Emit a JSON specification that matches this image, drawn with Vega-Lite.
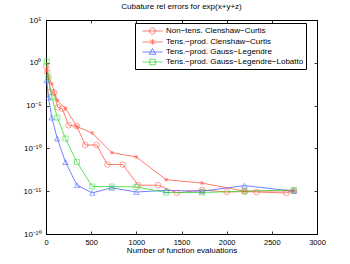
{
  "$schema": "https://vega.github.io/schema/vega-lite/v6.json",
  "width": 271,
  "height": 214,
  "autosize": {"type": "none"},
  "padding": {"left": 46, "top": 20, "right": 33, "bottom": 30},
  "background": "white",
  "config": {
    "font": "Liberation Sans",
    "view": {"stroke": "#000", "strokeWidth": 1},
    "axis": {"domainColor": "#000", "tickColor": "#000", "labelColor": "#000", "titleColor": "#000", "labelFontSize": 7.5, "titleFontSize": 8, "titleFontWeight": "normal", "grid": false, "tickSize": -3, "domainWidth": 1, "tickWidth": 0.8}
  },
  "title": {"text": "Cubature rel errors for exp(x+y+z)", "fontSize": 8, "fontWeight": "normal", "color": "#000", "offset": 5},
  "data": {"values": [
    {"s": "Non−tens. Clenshaw−Curtis", "n": 1, "e": 0.4},
    {"s": "Non−tens. Clenshaw−Curtis", "n": 15, "e": 0.08},
    {"s": "Non−tens. Clenshaw−Curtis", "n": 50, "e": 4e-4},
    {"s": "Non−tens. Clenshaw−Curtis", "n": 90, "e": 3.2e-4},
    {"s": "Non−tens. Clenshaw−Curtis", "n": 130, "e": 6.3e-6},
    {"s": "Non−tens. Clenshaw−Curtis", "n": 180, "e": 4.5e-6},
    {"s": "Non−tens. Clenshaw−Curtis", "n": 250, "e": 5e-8},
    {"s": "Non−tens. Clenshaw−Curtis", "n": 340, "e": 4e-8},
    {"s": "Non−tens. Clenshaw−Curtis", "n": 435, "e": 2.5e-10},
    {"s": "Non−tens. Clenshaw−Curtis", "n": 560, "e": 2.5e-10},
    {"s": "Non−tens. Clenshaw−Curtis", "n": 680, "e": 1.3e-12},
    {"s": "Non−tens. Clenshaw−Curtis", "n": 850, "e": 1.3e-12},
    {"s": "Non−tens. Clenshaw−Curtis", "n": 1020, "e": 5e-15},
    {"s": "Non−tens. Clenshaw−Curtis", "n": 1240, "e": 5e-15},
    {"s": "Non−tens. Clenshaw−Curtis", "n": 1450, "e": 6.3e-16},
    {"s": "Non−tens. Clenshaw−Curtis", "n": 1730, "e": 1.4e-15},
    {"s": "Non−tens. Clenshaw−Curtis", "n": 2000, "e": 8e-16},
    {"s": "Non−tens. Clenshaw−Curtis", "n": 2200, "e": 9e-16},
    {"s": "Non−tens. Clenshaw−Curtis", "n": 2330, "e": 8e-16},
    {"s": "Non−tens. Clenshaw−Curtis", "n": 2660, "e": 6.3e-16},
    {"s": "Non−tens. Clenshaw−Curtis", "n": 2744, "e": 1.1e-15},
    {"s": "Tens.−prod. Clenshaw−Curtis", "n": 8, "e": 0.126},
    {"s": "Tens.−prod. Clenshaw−Curtis", "n": 27, "e": 0.0178},
    {"s": "Tens.−prod. Clenshaw−Curtis", "n": 64, "e": 3.5e-3},
    {"s": "Tens.−prod. Clenshaw−Curtis", "n": 125, "e": 4e-5},
    {"s": "Tens.−prod. Clenshaw−Curtis", "n": 216, "e": 4.5e-6},
    {"s": "Tens.−prod. Clenshaw−Curtis", "n": 343, "e": 3.5e-8},
    {"s": "Tens.−prod. Clenshaw−Curtis", "n": 512, "e": 6.3e-9},
    {"s": "Tens.−prod. Clenshaw−Curtis", "n": 729, "e": 3.2e-11},
    {"s": "Tens.−prod. Clenshaw−Curtis", "n": 1000, "e": 1e-11},
    {"s": "Tens.−prod. Clenshaw−Curtis", "n": 1331, "e": 2.2e-14},
    {"s": "Tens.−prod. Clenshaw−Curtis", "n": 1728, "e": 8.9e-15},
    {"s": "Tens.−prod. Clenshaw−Curtis", "n": 2197, "e": 1e-15},
    {"s": "Tens.−prod. Clenshaw−Curtis", "n": 2744, "e": 1.1e-15},
    {"s": "Tens.−prod. Gauss−Legendre", "n": 8, "e": 8.9e-3},
    {"s": "Tens.−prod. Gauss−Legendre", "n": 27, "e": 8.9e-5},
    {"s": "Tens.−prod. Gauss−Legendre", "n": 64, "e": 4e-7},
    {"s": "Tens.−prod. Gauss−Legendre", "n": 125, "e": 1.4e-9},
    {"s": "Tens.−prod. Gauss−Legendre", "n": 216, "e": 2.5e-12},
    {"s": "Tens.−prod. Gauss−Legendre", "n": 343, "e": 5e-15},
    {"s": "Tens.−prod. Gauss−Legendre", "n": 512, "e": 6.3e-16},
    {"s": "Tens.−prod. Gauss−Legendre", "n": 729, "e": 2.5e-15},
    {"s": "Tens.−prod. Gauss−Legendre", "n": 1000, "e": 8e-16},
    {"s": "Tens.−prod. Gauss−Legendre", "n": 1331, "e": 1.26e-15},
    {"s": "Tens.−prod. Gauss−Legendre", "n": 1728, "e": 1e-15},
    {"s": "Tens.−prod. Gauss−Legendre", "n": 2197, "e": 4.5e-15},
    {"s": "Tens.−prod. Gauss−Legendre", "n": 2744, "e": 1e-15},
    {"s": "Tens.−prod. Gauss−Legendre−Lobatto", "n": 8, "e": 1.41},
    {"s": "Tens.−prod. Gauss−Legendre−Lobatto", "n": 27, "e": 0.0178},
    {"s": "Tens.−prod. Gauss−Legendre−Lobatto", "n": 64, "e": 1e-4},
    {"s": "Tens.−prod. Gauss−Legendre−Lobatto", "n": 125, "e": 4e-7},
    {"s": "Tens.−prod. Gauss−Legendre−Lobatto", "n": 216, "e": 1.41e-9},
    {"s": "Tens.−prod. Gauss−Legendre−Lobatto", "n": 343, "e": 2.5e-12},
    {"s": "Tens.−prod. Gauss−Legendre−Lobatto", "n": 512, "e": 3.5e-15},
    {"s": "Tens.−prod. Gauss−Legendre−Lobatto", "n": 729, "e": 3.5e-15},
    {"s": "Tens.−prod. Gauss−Legendre−Lobatto", "n": 1000, "e": 3.2e-15},
    {"s": "Tens.−prod. Gauss−Legendre−Lobatto", "n": 1331, "e": 7e-16},
    {"s": "Tens.−prod. Gauss−Legendre−Lobatto", "n": 1728, "e": 7e-16},
    {"s": "Tens.−prod. Gauss−Legendre−Lobatto", "n": 2197, "e": 1e-15},
    {"s": "Tens.−prod. Gauss−Legendre−Lobatto", "n": 2744, "e": 1.4e-15}
  ]},
  "layer": [
    {
      "mark": {"type": "line", "strokeWidth": 0.8},
      "encoding": {
        "x": {"field": "n", "type": "quantitative", "scale": {"domain": [0, 3000], "nice": false, "zero": false},
              "axis": {"orient": "bottom", "title": "Number of function evaluations", "format": "d", "values": [0, 500, 1000, 1500, 2000, 2500, 3000], "labelPadding": 7, "titlePadding": 1, "labelFlush": false}},
        "y": {"field": "e", "type": "quantitative", "scale": {"type": "log", "domain": [1e-20, 1e5], "nice": false},
              "axis": {"orient": "left", "title": null, "values": [1e-20, 1e-15, 1e-10, 1e-5, 1, 100000], "labelPadding": 8, "labelFontSize": 8,
                       "labelExpr": "round(log(datum.value)/LN10) == 5 ? '10⁵' : round(log(datum.value)/LN10) == 0 ? '10⁰' : round(log(datum.value)/LN10) == -5 ? '10⁻⁵' : round(log(datum.value)/LN10) == -10 ? '10⁻¹⁰' : round(log(datum.value)/LN10) == -15 ? '10⁻¹⁵' : '10⁻²⁰'"}},
        "color": {"field": "s", "type": "nominal",
                  "scale": {"domain": ["Non−tens. Clenshaw−Curtis", "Tens.−prod. Clenshaw−Curtis", "Tens.−prod. Gauss−Legendre", "Tens.−prod. Gauss−Legendre−Lobatto"], "range": ["#ff5a48", "#ff5a48", "#4f62ff", "#30dd30"]},
                  "legend": {"title": null, "orient": "none", "legendX": 89, "legendY": 3, "fillColor": "white", "strokeColor": "#000", "padding": 2.5,
                             "symbolSize": 100, "symbolStrokeWidth": 0.8, "symbolOffset": 9.5, "labelOffset": 8, "labelFontSize": 8, "labelColor": "#000", "rowPadding": 0, "labelLimit": 300,
                             "encode": {"symbols": {"update": {"fill": {"value": "transparent"}, "shape": {"signal": "indexof(datum.value, 'Non') >= 0 ? 'M-2,0L2,0M-0.6,0A0.6,0.6,0,1,0,0.6,0A0.6,0.6,0,1,0,-0.6,0' : indexof(datum.value, 'Clenshaw') >= 0 ? 'M-2,0L2,0M-0.45,-0.45L0.45,0.45M-0.45,0.45L0.45,-0.45M0,-0.55L0,0.55' : indexof(datum.value, 'Lobatto') >= 0 ? 'M-2,0L2,0M-0.55,-0.55L0.55,-0.55L0.55,0.55L-0.55,0.55Z' : 'M-2,0L2,0M0,-0.7L0.65,0.45L-0.65,0.45Z'"}}}}}}
      }
    },
    {
      "transform": [{"filter": "datum.s == 'Non−tens. Clenshaw−Curtis'"}],
      "mark": {"type": "point", "filled": false, "strokeWidth": 0.8, "size": 32, "shape": "circle", "color": "#ff5a48"},
      "encoding": {
        "x": {"field": "n", "type": "quantitative", "axis": null},
        "y": {"field": "e", "type": "quantitative", "axis": null}
      }
    },
    {
      "transform": [{"filter": "datum.s == 'Tens.−prod. Clenshaw−Curtis'"}],
      "mark": {"type": "point", "filled": false, "strokeWidth": 0.9, "size": 14, "shape": "M-0.8,-0.8L0.8,0.8M-0.8,0.8L0.8,-0.8M0,-1L0,1M-1,0L1,0", "color": "#ff5a48"},
      "encoding": {
        "x": {"field": "n", "type": "quantitative", "axis": null},
        "y": {"field": "e", "type": "quantitative", "axis": null}
      }
    },
    {
      "transform": [{"filter": "datum.s == 'Tens.−prod. Gauss−Legendre'"}],
      "mark": {"type": "point", "filled": false, "strokeWidth": 0.8, "size": 30, "shape": "triangle-up", "color": "#4f62ff"},
      "encoding": {
        "x": {"field": "n", "type": "quantitative", "axis": null},
        "y": {"field": "e", "type": "quantitative", "axis": null}
      }
    },
    {
      "transform": [{"filter": "datum.s == 'Tens.−prod. Gauss−Legendre−Lobatto'"}],
      "mark": {"type": "point", "filled": false, "strokeWidth": 0.8, "size": 25, "shape": "square", "color": "#30dd30"},
      "encoding": {
        "x": {"field": "n", "type": "quantitative", "axis": null},
        "y": {"field": "e", "type": "quantitative", "axis": null}
      }
    },
    {
      "mark": {"type": "point", "opacity": 0},
      "encoding": {
        "x": {"field": "n", "type": "quantitative", "axis": {"orient": "top", "labels": false, "title": null, "values": [0, 500, 1000, 1500, 2000, 2500, 3000], "domain": false}},
        "y": {"field": "e", "type": "quantitative", "axis": {"orient": "right", "labels": false, "title": null, "values": [1e-20, 1e-15, 1e-10, 1e-5, 1, 100000], "domain": false}}
      }
    }
  ],
  "resolve": {"axis": {"x": "independent", "y": "independent"}}
}
